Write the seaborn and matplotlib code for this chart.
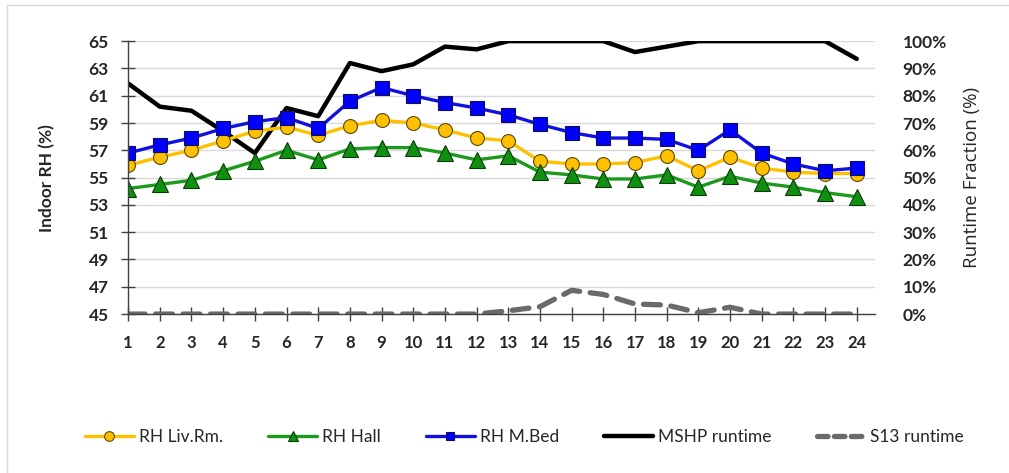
import matplotlib
matplotlib.use("Agg")
import matplotlib.pyplot as plt
import matplotlib.lines as mlines
import seaborn as sns
import pandas as pd
import numpy as np

hours = list(range(1, 25))
rh_liv = [55.9, 56.5, 57.0, 57.7, 58.4, 58.7, 58.1, 58.8, 59.2, 59.0, 58.5, 57.9,
          57.7, 56.2, 56.0, 56.0, 56.1, 56.6, 55.5, 56.5, 55.7, 55.4, 55.3, 55.3]
rh_hall = [54.2, 54.5, 54.8, 55.5, 56.2, 57.0, 56.3, 57.1, 57.2, 57.2, 56.8, 56.3,
           56.6, 55.4, 55.2, 54.9, 54.9, 55.2, 54.3, 55.1, 54.6, 54.3, 53.9, 53.6]
rh_bed = [56.8, 57.4, 57.9, 58.6, 59.1, 59.4, 58.6, 60.6, 61.6, 61.0, 60.5, 60.1,
          59.6, 58.9, 58.3, 57.9, 57.9, 57.8, 57.0, 58.5, 56.8, 56.0, 55.5, 55.7]
mshp_runtime = [0.845, 0.76, 0.745, 0.67, 0.59, 0.755, 0.725, 0.92, 0.89, 0.915, 0.98, 0.97,
                1.0, 1.0, 1.0, 1.0, 0.96, 0.98, 1.0, 1.0, 1.0, 1.0, 1.0, 0.935]
s13_runtime = [0, 0, 0, 0, 0, 0, 0, 0, 0, 0, 0, 0,
               0.012, 0.027, 0.087, 0.072, 0.037, 0.033, 0.005, 0.025, 0, 0, 0, 0]

left_ticks = list(range(45, 66, 2))
right_ticks = [i / 10 for i in range(0, 11)]
right_ticklabels = [f"{i*10}%" for i in range(0, 11)]

df = pd.DataFrame({"hour": hours, "liv": rh_liv, "hall": rh_hall, "bed": rh_bed,
                   "mshp": mshp_runtime, "s13": s13_runtime})

sns.set_theme(style="white")
plt.rcParams['font.family'] = ['Lato', 'DejaVu Sans']

fig = plt.figure(figsize=(10.09, 4.73), dpi=100)
ax2 = fig.add_axes([0.127, 0.336, 0.740, 0.577])
ax = ax2.twinx()
ax.yaxis.tick_left()
ax.yaxis.set_label_position("left")
ax2.yaxis.tick_right()
ax2.yaxis.set_label_position("right")

# runtime series (behind)
sns.lineplot(data=df, x="hour", y="mshp", ax=ax2, color="black", lw=3.2, legend=False)
sns.lineplot(data=df, x="hour", y="s13", ax=ax2, color="#6a6a6a", lw=3.8, legend=False)
ax2.lines[1].set_dashes([3.2, 2.0])
ax2.lines[1].set_dash_capstyle("round")
ax2.lines[0].set_solid_capstyle("round")

# RH series
sns.lineplot(data=df, x="hour", y="liv", ax=ax, color="#FFC000", lw=2.4, marker="o",
             markersize=10, markerfacecolor="#FFC000", markeredgecolor="#5a4a10",
             markeredgewidth=0.8, legend=False)
sns.lineplot(data=df, x="hour", y="hall", ax=ax, color="#1c9a1c", lw=2.4, marker="^",
             markersize=11, markerfacecolor="#109010", markeredgecolor="#0a3a0a",
             markeredgewidth=0.8, legend=False)
sns.lineplot(data=df, x="hour", y="bed", ax=ax, color="#1010e0", lw=2.4, marker="s",
             markersize=10, markerfacecolor="#0000ff", markeredgecolor="#101050",
             markeredgewidth=0.8, legend=False)

for a in (ax, ax2):
    a.set_xlim(1, 24.57)
    for s in a.spines.values():
        s.set_visible(False)
    a.set_xlabel("")

ax.set_ylim(45, 65)
ax2.set_ylim(0, 1)
ax.set_yticks(left_ticks)
ax.set_yticklabels([str(t) for t in left_ticks], fontsize=12.5, fontweight="bold")
ax2.set_yticks(right_ticks)
ax2.set_yticklabels(right_ticklabels, fontsize=12.5, fontweight="bold")
ax2.set_xticks(hours)
ax2.set_xticklabels([str(h) for h in hours], fontsize=12, fontweight="bold")
ax.set_xticks(hours)
ax.tick_params(axis="x", labelbottom=False, bottom=False)

ax2.yaxis.grid(True, color="#d9d9d9", lw=1)
ax2.spines["bottom"].set_visible(True)
ax2.spines["bottom"].set_color("#404040")
ax2.spines["bottom"].set_linewidth(1.0)
ax.spines["left"].set_visible(True)
ax.spines["left"].set_color("#404040")
ax.spines["left"].set_linewidth(1.0)

ax.tick_params(axis="y", direction="inout", length=10, width=1, color="#404040", pad=9, left=True)
ax2.tick_params(axis="x", direction="inout", length=10, width=1, color="#404040", pad=10, bottom=True)
ax2.tick_params(axis="y", right=False, pad=14)

ax.set_ylabel("Indoor RH (%)", fontsize=12.5, fontweight="bold", labelpad=24)
ax2.set_ylabel("Runtime Fraction (%)", fontsize=13.5, fontweight="normal",
               family=["Open Sans", "DejaVu Sans"], labelpad=12)

ax.set_zorder(ax2.get_zorder() + 1)
ax.patch.set_visible(False)

handles = [
    mlines.Line2D([], [], color="#FFC000", lw=2.4, marker="o", markersize=7,
                  markerfacecolor="#FFC000", markeredgecolor="#5a4a10", markeredgewidth=0.8),
    mlines.Line2D([], [], color="#1c9a1c", lw=2.4, marker="^", markersize=7,
                  markerfacecolor="#109010", markeredgecolor="#0a3a0a", markeredgewidth=0.8),
    mlines.Line2D([], [], color="#1010e0", lw=2.4, marker="s", markersize=6,
                  markerfacecolor="#0000ff", markeredgecolor="#101050", markeredgewidth=0.8),
    mlines.Line2D([], [], color="black", lw=3.2),
    mlines.Line2D([], [], color="#6a6a6a", lw=3.8, dashes=[2.0, 1.2], dash_capstyle="round"),
]
labels = ["RH Liv.Rm.", "RH Hall", "RH M.Bed", "MSHP runtime", "S13 runtime"]
fig.legend(handles, labels, loc="center", bbox_to_anchor=(0.52, 0.076), ncol=5,
           frameon=False, handlelength=2.8, handletextpad=0.3,
           columnspacing=2.6, prop={"family": ["Lato", "DejaVu Sans"], "size": 12.5})

# chart border (light grey, top and left visible)
fig.add_artist(mlines.Line2D([7/1009, 7/1009], [0, 1 - 5/473], transform=fig.transFigure,
                             color="#d9d9d9", lw=1))
fig.add_artist(mlines.Line2D([7/1009, 1], [1 - 5/473, 1 - 5/473], transform=fig.transFigure,
                             color="#d9d9d9", lw=1))

fig.savefig("out.png", dpi=100)
